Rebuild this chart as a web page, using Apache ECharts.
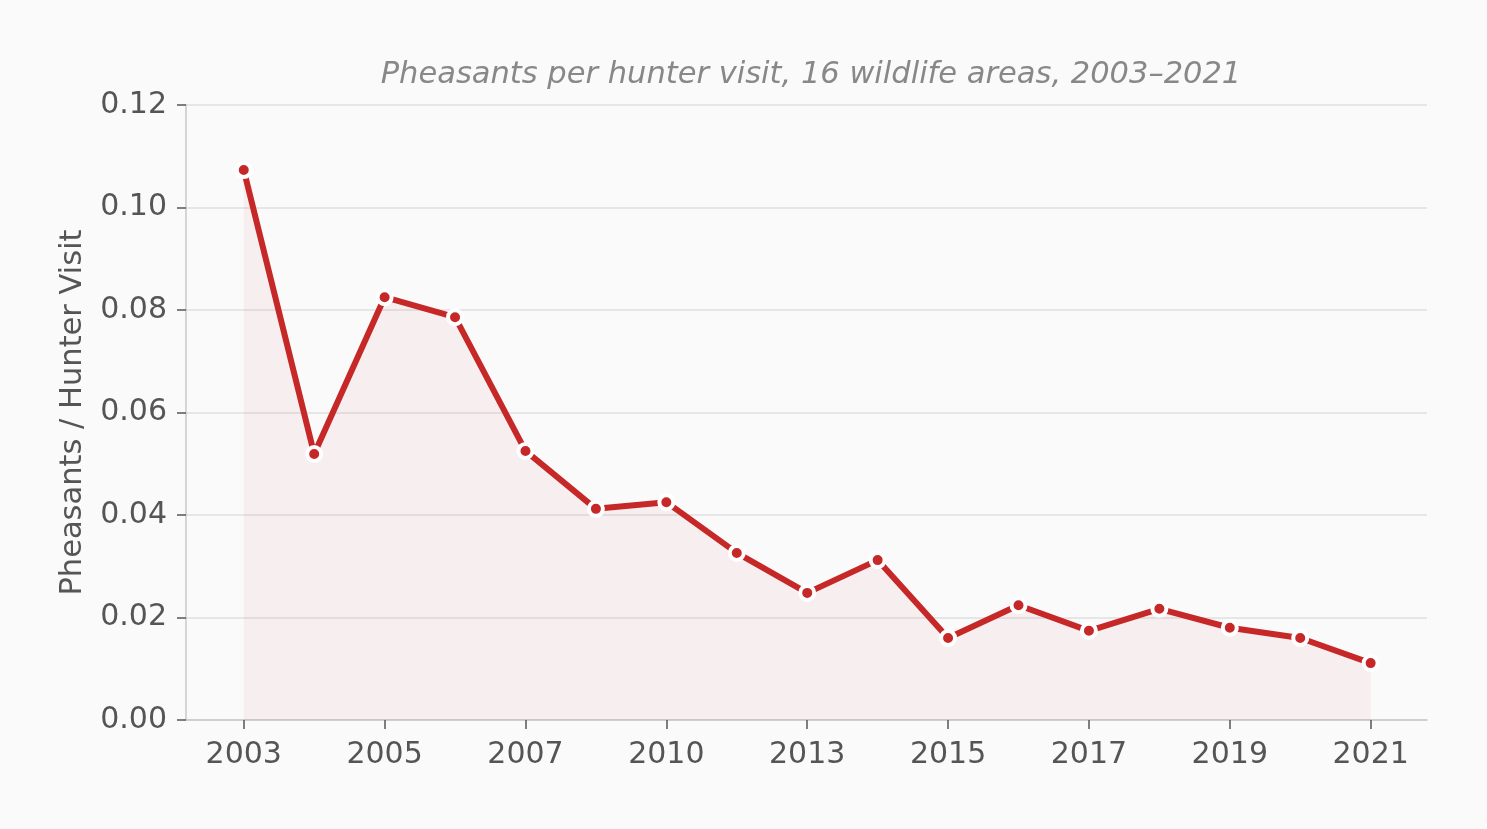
<!DOCTYPE html>
<html>
<head>
<meta charset="utf-8">
<script src="https://cdn.jsdelivr.net/npm/echarts@6/dist/echarts.min.js"></script>
<style>
  html, body { margin: 0; padding: 0; background: #fafafa; }
  #main { width: 1487px; height: 829px; }
</style>
</head>
<body>
<div id="main"></div>
<script>
// data
const years = ['2003', '2004', '2005', '2006', '2007', '2008', '2010', '2012', '2013',
  '2014', '2015', '2016', '2017', '2018', '2019', '2020', '2021'];
const perVisit = [0.1073, 0.0519, 0.0825, 0.0786, 0.0525, 0.0412, 0.0425, 0.0326, 0.0248,
  0.0312, 0.0160, 0.0224, 0.0174, 0.0217, 0.0180, 0.0160, 0.0111];
const yTicks = [0, 0.02, 0.04, 0.06, 0.08, 0.10, 0.12];
// every other year gets a label
const labelIdx = [0, 2, 4, 6, 8, 10, 12, 14, 16];

const font = 'DejaVu Sans';
const chart = echarts.init(document.getElementById('main'));

chart.setOption({
  backgroundColor: '#fafafa',
  animation: false,
  title: {
    text: 'Pheasants per hunter visit, 16 wildlife areas, 2003\u20132021',
    left: 806, top: 55, textAlign: 'center',
    textStyle: { fontFamily: font, fontSize: 30.5, fontStyle: 'italic', fontWeight: 'normal', color: '#888' }
  },
  grid: { left: 186, right: 60, top: 105, bottom: 109 },
  xAxis: {
    type: 'value',
    min: -0.82, max: 16.8,
    axisLine: { show: true, onZero: false, lineStyle: { color: '#c8c8c8', width: 1.5 } },
    axisTick: { show: true, length: 9, customValues: labelIdx, lineStyle: { color: '#555', width: 1.5 } },
    axisLabel: {
      customValues: labelIdx, margin: 20,
      fontFamily: font, fontSize: 30, color: '#555',
      formatter: v => years[v]
    },
    splitLine: { show: false }
  },
  yAxis: {
    type: 'value',
    min: 0, max: 0.12, interval: 0.02,
    name: 'Pheasants / Hunter Visit',
    nameLocation: 'middle', nameGap: 97,
    nameTextStyle: { fontFamily: font, fontSize: 30.5, color: '#555' },
    axisLine: { show: true, onZero: false, lineStyle: { color: '#c8c8c8', width: 1.5 } },
    axisTick: { show: true, length: 9, customValues: yTicks, lineStyle: { color: '#555', width: 1.5 } },
    axisLabel: {
      margin: 19, fontFamily: font, fontSize: 30, color: '#555',
      padding: [2, 0, 0, 0],
      formatter: v => v.toFixed(2)
    },
    splitLine: { show: true, lineStyle: { color: '#e6e6e6', width: 2 } }
  },
  series: [{
    type: 'line',
    data: perVisit.map((v, i) => [i, v]),
    symbol: 'circle',
    symbolSize: 14,
    lineStyle: { color: '#c62828', width: 6 },
    itemStyle: { color: '#c62828', borderColor: '#fff', borderWidth: 4 },
    areaStyle: { color: 'rgba(198, 40, 40, 0.07)' },
    z: 3
  }]
});
</script>
</body>
</html>
